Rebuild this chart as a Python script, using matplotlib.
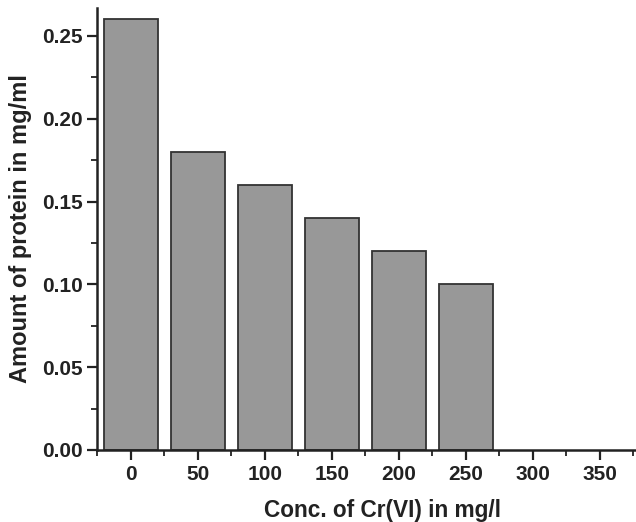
import numpy as np
import matplotlib.pyplot as plt
from matplotlib.ticker import MultipleLocator

plt.rcParams['font.family'] = ['Liberation Sans', 'DejaVu Sans']
plt.rcParams['font.weight'] = 'bold'

conc = [0, 50, 100, 150, 200, 250]
protein = [0.26, 0.18, 0.16, 0.14, 0.12, 0.10]


fig = plt.figure(figsize=(6.36, 5.22), dpi=100)
ax = fig.add_axes([0.153, 0.138, 0.847, 0.847])

ax.bar(conc, protein, width=40, color='#989898', edgecolor='#333333', linewidth=1.3)

ax.set_xlim(-25, 377)
ax.set_ylim(0, 0.267)
ax.xaxis.set_major_locator(MultipleLocator(50))
ax.xaxis.set_minor_locator(MultipleLocator(25))
ax.yaxis.set_major_locator(MultipleLocator(0.05))
ax.yaxis.set_minor_locator(MultipleLocator(0.025))
ax.yaxis.set_major_formatter(plt.FormatStrFormatter('%.2f'))

for s in ['top', 'right']:
    ax.spines[s].set_visible(False)
for s in ['left', 'bottom']:
    ax.spines[s].set_linewidth(1.8)
    ax.spines[s].set_color('#222222')

ax.tick_params(which='major', direction='out', length=7, width=1.6, labelsize=15,
               color='#222222', labelcolor='#222222')
ax.tick_params(which='minor', direction='out', length=4, width=1.3, color='#222222')

ax.set_xlabel('Conc. of Cr(VI) in mg/l', fontsize=16.3, fontweight='bold', labelpad=11, color='#222222')
ax.xaxis.label.set_x(0.53)
ax.set_ylabel('Amount of protein in mg/ml', fontsize=17, fontweight='bold', labelpad=7, color='#222222')

fig.savefig('out.png', dpi=100)
